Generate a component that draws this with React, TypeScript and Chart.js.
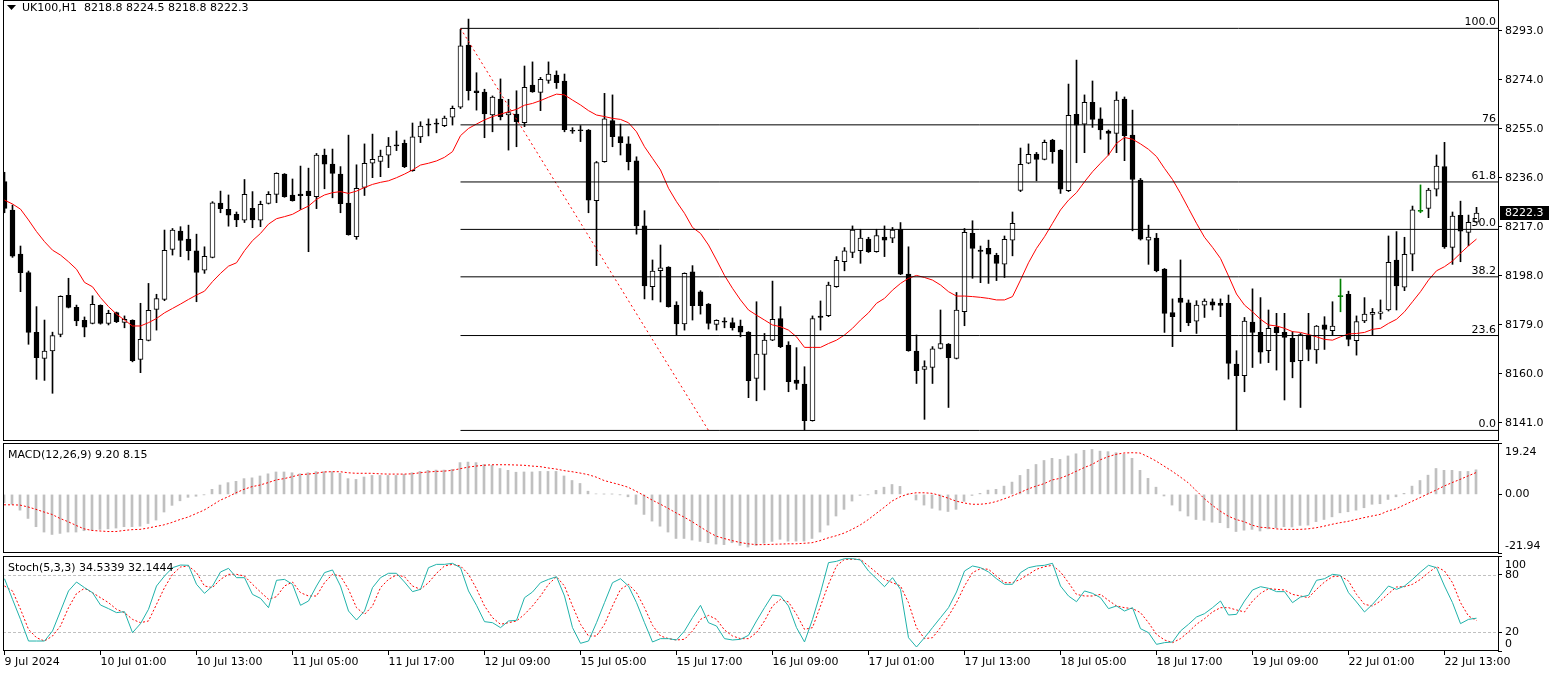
import React, { useEffect, useRef } from "react";
import { Chart, registerables } from "chart.js";

Chart.register(...registerables);

// ---------------- DATA ----------------
const symbolTitle = "UK100,H1";

const openP = [
8234.5,8223.4,8206.4,8199.2,8176.0,8165.9,8168.8,8175.2,8190.4,8185.7,
8180.7,8179.5,8186.5,8179.5,8183.7,8179.9,8180.7,8165.5,8172.9,8184.9,
8188.8,8208.2,8215.3,8212.2,8207.6,8200.1,8205.1,8226.2,8223.7,8221.8,
8219.5,8224.1,8219.5,8226.0,8229.5,8237.4,8229.3,8229.6,8230.8,8228.6,
8244.8,8241.3,8237.4,8226.2,8213.1,8232.2,8241.6,8242.3,8244.7,8248.7,
8249.3,8238.7,8251.8,8256.8,8257.1,8256.2,8259.5,8263.3,8287.4,8269.7,
8269.2,8260.3,8266.5,8260.3,8260.7,8257.3,8271.9,8269.1,8273.7,8275.8,
8273.5,8254.4,8254.5,8254.5,8227.1,8242.2,8258.1,8251.9,8249.1,8242.5,
8217.3,8193.7,8199.9,8201.3,8186.6,8179.3,8199.5,8191.7,8187.0,8179.1,
8180.3,8179.8,8178.5,8176.1,8158.2,8167.5,8173.0,8181.4,8171.1,8157.5,
8156.0,8141.8,8182.3,8182.5,8193.7,8203.4,8207.0,8207.7,8212.2,8207.3,
8213.0,8212.5,8216.0,8198.6,8168.8,8161.7,8162.4,8169.8,8171.5,8165.9,
8184.0,8214.4,8207.9,8208.6,8205.9,8202.5,8211.8,8231.1,8241.6,8245.2,
8243.1,8250.6,8246.7,8231.0,8260.6,8256.8,8265.2,8258.8,8254.1,8253.2,
8266.5,8252.5,8235.1,8211.8,8212.6,8200.6,8183.7,8189.3,8187.5,8180.4,
8186.6,8187.9,8187.3,8187.3,8163.7,8159.2,8180.0,8176.0,8168.9,8178.0,
8176.0,8173.7,8165.0,8175.0,8169.2,8178.9,8176.7,8190.1,8190.8,8172.8,
8180.5,8183.0,8183.4,8184.7,8204.1,8193.5,8206.3,8223.1,8224.1,8231.5,
8240.3,8209.0,8221.4,8214.8,8218.8];

const highP = [
8238.1,8225.4,8209.5,8199.8,8186.0,8180.8,8176.1,8190.2,8197.0,8186.6,
8182.0,8190.2,8186.7,8184.6,8183.9,8182.4,8180.9,8187.3,8195.0,8190.8,
8215.7,8216.3,8217.0,8217.6,8214.1,8209.2,8226.7,8230.8,8229.3,8222.7,
8235.3,8230.6,8226.9,8230.6,8237.9,8237.6,8235.5,8240.5,8239.7,8245.4,
8247.1,8247.1,8240.3,8252.5,8241.0,8249.1,8252.9,8246.7,8251.6,8254.1,
8250.6,8257.2,8257.7,8258.8,8258.8,8259.9,8263.8,8293.5,8297.5,8276.7,
8270.3,8267.7,8274.3,8266.4,8269.7,8279.3,8280.9,8274.9,8280.9,8277.4,
8276.2,8255.4,8256.2,8254.7,8242.3,8268.7,8268.1,8256.8,8251.9,8244.1,
8223.2,8204.1,8209.9,8201.5,8187.9,8199.1,8201.9,8192.2,8187.2,8180.9,
8181.7,8181.6,8180.8,8176.3,8187.9,8175.6,8195.9,8186.0,8172.4,8170.1,
8162.7,8182.4,8188.2,8195.5,8205.4,8208.9,8217.3,8216.0,8212.9,8216.0,
8217.3,8216.7,8218.6,8209.2,8175.0,8165.0,8170.5,8184.7,8171.7,8191.5,
8216.3,8219.3,8209.5,8211.8,8206.7,8213.4,8222.7,8247.5,8249.1,8245.8,
8250.6,8250.9,8246.9,8272.3,8281.6,8268.1,8273.5,8263.1,8254.5,8269.3,
8267.3,8262.2,8235.7,8217.6,8214.4,8200.8,8189.0,8204.1,8188.6,8188.3,
8189.0,8189.0,8189.0,8190.5,8168.9,8181.8,8192.9,8189.5,8184.7,8183.4,
8183.4,8176.3,8175.6,8183.4,8178.7,8182.1,8187.9,8196.7,8192.0,8182.4,
8189.5,8185.3,8188.6,8213.4,8215.1,8212.9,8225.0,8233.2,8231.9,8244.8,
8249.7,8222.7,8226.9,8221.5,8224.5];

const lowP = [
8222.4,8205.1,8191.8,8171.4,8157.8,8157.4,8152.4,8174.3,8185.5,8178.6,
8174.3,8179.3,8179.2,8178.9,8179.8,8177.8,8164.6,8160.4,8172.7,8176.9,
8188.3,8206.0,8205.4,8204.1,8187.9,8198.9,8204.9,8222.4,8217.2,8217.0,
8218.6,8216.6,8217.0,8225.8,8226.3,8228.4,8226.9,8223.7,8207.3,8224.0,
8231.7,8228.2,8222.4,8213.7,8212.1,8229.1,8236.0,8236.4,8239.9,8246.5,
8239.9,8238.5,8249.6,8252.2,8253.4,8255.8,8256.4,8262.8,8266.1,8262.2,
8251.5,8253.8,8258.4,8246.7,8248.0,8255.8,8269.1,8262.0,8272.6,8270.6,
8253.8,8253.2,8250.0,8222.4,8201.9,8242.0,8248.0,8244.8,8239.0,8214.1,
8189.0,8188.6,8187.8,8185.8,8175.0,8176.9,8180.8,8183.1,8177.3,8176.9,
8177.8,8176.9,8174.3,8150.7,8149.5,8153.7,8172.8,8170.1,8153.0,8153.9,
8138.1,8141.6,8176.9,8182.1,8193.5,8199.9,8205.0,8202.8,8207.0,8207.1,
8205.4,8210.8,8198.4,8168.7,8156.2,8142.3,8156.2,8169.6,8146.9,8165.7,
8178.6,8197.0,8195.3,8195.0,8196.1,8197.3,8205.7,8230.6,8241.4,8234.8,
8242.9,8241.6,8229.9,8230.6,8241.8,8245.7,8255.5,8250.9,8244.8,8245.7,
8242.6,8215.4,8211.8,8202.4,8199.5,8176.0,8170.5,8176.3,8178.6,8175.6,
8181.8,8184.7,8182.1,8157.9,8138.1,8153.0,8162.4,8164.0,8164.3,8161.4,
8149.8,8158.4,8146.9,8165.0,8164.0,8169.4,8175.0,8184.0,8170.8,8167.2,
8179.8,8175.0,8181.1,8184.3,8184.7,8192.2,8199.9,8222.4,8220.5,8228.9,
8208.6,8202.4,8203.4,8209.6,8218.8];

const closeP = [
8224.1,8205.6,8199.2,8176.0,8166.2,8168.8,8174.8,8190.0,8185.7,8180.5,
8178.0,8186.9,8179.5,8183.4,8180.2,8181.1,8165.0,8173.3,8184.6,8189.1,
8207.8,8215.7,8211.7,8207.7,8199.3,8205.5,8226.3,8224.0,8221.5,8219.6,
8229.5,8219.6,8225.7,8229.5,8237.7,8228.6,8227.1,8229.0,8229.0,8244.8,
8241.2,8237.7,8225.9,8213.9,8231.9,8241.6,8243.1,8244.4,8248.3,8248.4,
8240.3,8251.8,8256.0,8256.4,8256.8,8259.1,8262.9,8287.1,8269.7,8269.0,
8260.7,8267.3,8259.7,8261.2,8257.7,8271.0,8269.3,8274.1,8276.2,8272.8,
8254.6,8254.0,8254.3,8227.3,8241.9,8258.8,8251.9,8249.6,8242.2,8217.3,
8194.0,8199.8,8201.0,8186.0,8179.3,8198.9,8186.4,8186.4,8179.5,8180.7,
8180.1,8177.8,8176.1,8157.3,8167.6,8173.0,8181.1,8170.5,8156.9,8156.2,
8141.8,8181.4,8181.8,8194.4,8204.0,8207.6,8215.7,8212.6,8207.3,8213.6,
8211.8,8215.7,8198.6,8168.9,8161.2,8162.8,8169.6,8171.7,8166.2,8184.7,
8214.8,8208.6,8207.4,8206.3,8202.8,8212.1,8218.3,8241.2,8245.1,8243.1,
8249.7,8246.1,8231.5,8260.2,8256.4,8265.2,8258.6,8254.5,8253.2,8266.1,
8252.3,8235.3,8212.2,8213.0,8199.9,8183.4,8182.1,8187.6,8179.8,8186.6,
8188.2,8186.6,8186.5,8164.0,8159.2,8180.4,8176.0,8168.3,8177.6,8175.9,
8174.1,8164.6,8175.2,8169.4,8178.5,8177.2,8178.5,8190.1,8173.3,8180.2,
8183.1,8183.8,8184.0,8203.2,8194.0,8206.3,8223.5,8223.1,8231.2,8240.5,
8209.2,8221.1,8215.3,8218.7,8222.3];

const maLine = [
8227.3,8225.8,8223.8,8219.6,8215.1,8211.2,8207.9,8206.0,8203.4,8200.5,
8195.4,8193.7,8189.5,8186.0,8183.1,8180.8,8178.5,8178.5,8179.8,8181.4,
8183.6,8185.3,8187.0,8188.8,8190.5,8192.0,8195.7,8198.9,8201.7,8203.0,
8207.7,8211.6,8214.4,8218.0,8220.1,8220.9,8221.8,8223.5,8225.0,8227.6,
8229.3,8230.2,8230.6,8229.9,8230.8,8232.2,8233.4,8234.2,8234.8,8236.0,
8237.4,8239.0,8240.9,8241.6,8242.5,8243.9,8246.1,8252.3,8255.1,8256.8,
8258.4,8259.7,8260.6,8261.6,8262.5,8264.1,8264.8,8265.9,8267.2,8268.4,
8268.1,8266.1,8264.2,8262.0,8260.3,8259.7,8259.0,8258.6,8257.3,8253.8,
8248.0,8243.5,8239.0,8231.9,8226.7,8222.2,8216.7,8214.4,8209.9,8204.1,
8198.1,8193.1,8188.6,8184.7,8182.7,8180.8,8178.9,8178.2,8176.9,8174.3,
8170.2,8170.2,8170.2,8171.7,8173.0,8175.0,8177.6,8180.8,8183.6,8187.3,
8189.2,8192.4,8195.0,8197.0,8198.1,8197.3,8196.3,8194.4,8191.8,8190.1,
8190.1,8189.9,8189.6,8189.2,8188.6,8188.6,8189.9,8196.3,8203.0,8208.6,
8213.1,8218.3,8223.5,8227.3,8230.2,8234.4,8238.3,8241.6,8244.8,8249.3,
8251.6,8250.9,8249.1,8247.0,8244.2,8239.6,8235.3,8229.9,8224.1,8218.3,
8212.9,8209.0,8204.7,8197.9,8190.9,8186.6,8184.0,8181.1,8178.9,8178.5,
8177.6,8176.3,8176.0,8175.2,8174.3,8173.3,8173.0,8174.3,8175.4,8175.6,
8176.0,8177.2,8177.6,8179.5,8181.1,8184.0,8187.9,8191.8,8196.3,8199.9,
8201.5,8203.7,8206.7,8209.6,8212.2];

const macdMain = [
-3.1,-3.7,-5.9,-9.0,-12.1,-14.1,-15.0,-14.6,-14.1,-14.1,
-13.6,-13.4,-13.1,-12.9,-12.6,-12.1,-12.1,-11.9,-10.9,-9.6,
-6.6,-4.1,-2.4,-1.1,-0.7,-0.1,1.9,3.5,4.4,4.9,
5.9,6.2,6.9,7.7,8.4,8.4,8.1,7.7,8.1,8.5,
8.5,8.5,7.9,5.9,5.6,6.5,7.1,7.1,7.1,7.1,
7.5,8.1,8.6,9.0,9.1,9.1,9.4,11.9,12.1,11.9,
11.2,10.9,9.7,9.0,8.3,8.4,8.4,8.6,8.6,8.6,
6.9,5.2,4.1,1.2,0.2,0.1,0.1,-0.1,-0.9,-3.7,
-7.5,-10.0,-11.9,-14.1,-16.5,-16.5,-17.1,-17.6,-18.1,-18.6,
-18.8,-18.1,-19.1,-19.7,-19.1,-18.3,-17.6,-16.8,-17.5,-17.5,
-17.5,-16.5,-14.1,-11.5,-8.1,-5.6,-2.5,-0.4,-0.1,1.5,
2.7,3.7,3.0,0.1,-2.1,-4.0,-5.2,-5.9,-6.4,-5.6,
-2.6,-0.4,0.4,1.6,1.9,3.1,4.6,7.1,9.4,11.2,
12.7,13.5,13.1,14.4,15.2,16.5,16.8,16.2,16.0,15.6,
15.0,13.5,9.0,6.0,2.7,-0.6,-4.0,-6.2,-8.1,-9.4,
-9.7,-10.4,-10.6,-12.5,-13.9,-13.4,-13.1,-13.7,-12.9,-12.5,
-12.1,-12.2,-11.6,-11.5,-10.2,-9.4,-8.4,-6.9,-6.5,-5.9,
-5.0,-3.7,-3.5,-1.9,-0.9,0.4,3.1,5.2,7.2,9.7,
9.0,9.0,8.6,8.6,9.20];

const macdSignal = [
-3.9,-3.9,-4.0,-4.7,-5.6,-6.6,-7.5,-9.0,-10.2,-11.6,
-12.9,-13.5,-13.7,-13.9,-13.9,-13.5,-13.2,-13.1,-12.6,-12.0,
-11.4,-10.5,-9.4,-8.5,-7.2,-5.9,-4.1,-2.2,-0.9,0.6,
1.9,2.9,3.5,4.4,5.4,5.9,6.6,7.4,7.6,7.9,
8.4,8.5,8.5,8.1,7.9,7.9,7.9,7.7,7.6,7.6,
7.6,7.7,8.1,8.4,8.6,8.7,9.0,9.6,10.2,10.6,
10.9,11.1,11.1,11.1,11.0,10.9,10.6,10.4,9.9,9.5,
8.9,8.5,8.0,7.4,6.5,5.2,4.4,3.6,2.7,1.2,
-0.4,-2.1,-3.6,-5.2,-6.9,-8.5,-10.2,-12.1,-14.0,-15.6,
-16.5,-17.3,-18.0,-18.5,-18.8,-18.8,-18.7,-18.6,-18.5,-18.5,
-18.3,-18.1,-17.3,-16.3,-15.5,-14.5,-13.1,-11.5,-9.5,-7.2,
-4.9,-2.5,-0.9,0.1,0.6,0.6,0.4,-0.4,-1.4,-2.5,
-3.2,-3.7,-3.7,-3.4,-2.7,-1.7,-0.6,0.7,2.0,3.1,
4.0,5.4,6.0,7.2,8.6,10.0,11.2,12.9,14.1,15.0,
15.5,15.6,15.5,14.1,12.5,10.6,8.7,6.6,4.4,1.5,
-1.5,-4.0,-6.2,-8.1,-9.4,-10.2,-11.5,-12.3,-12.5,-12.9,
-13.1,-13.1,-13.1,-12.9,-12.5,-11.9,-11.2,-10.6,-10.1,-9.4,
-8.7,-8.1,-7.5,-6.2,-5.4,-4.0,-2.6,-1.2,0.2,1.6,
3.1,4.4,5.6,6.9,8.15];

const stochK = [
76.1,54.4,33.3,10.5,10.5,10.5,21.1,42.1,63.2,72.6,
66.7,61.4,48.4,44.6,40.4,41.4,19.3,28.8,43.9,68.4,
78.9,87.7,90.5,90.2,70.2,60.7,68.4,83.2,87.0,77.2,
77.2,59.6,55.4,45.6,74.4,75.4,70.2,48.1,52.6,68.4,
82.5,85.3,68.4,42.1,32.6,42.1,66.7,77.2,81.8,81.8,
72.6,62.5,64.9,87.7,91.2,91.2,92.3,87.7,63.2,48.1,
30.9,29.8,24.6,31.6,32.3,56.1,62.1,71.9,75.4,78.2,
57.9,24.6,8.1,10.5,29.8,50.9,71.9,76.1,68.4,50.9,
29.8,9.5,13.0,13.0,11.6,21.1,35.1,48.1,29.8,26.3,
13.0,11.6,12.3,16.5,31.6,45.6,58.9,57.9,47.4,24.6,
9.5,33.3,61.4,93.0,94.4,97.2,97.2,95.8,84.2,76.1,
67.7,77.2,64.9,14.0,4.2,14.0,24.6,35.1,45.6,62.1,
84.2,89.5,87.7,83.2,76.1,70.2,70.2,82.5,87.7,89.5,
90.2,92.3,68.4,57.9,51.9,63.2,60.7,56.1,44.6,47.4,
42.1,45.6,23.5,19.3,7.0,8.8,9.5,21.1,28.1,35.8,
39.3,45.6,52.6,37.9,38.6,52.6,64.2,67.7,66.0,62.5,
62.5,50.9,56.8,58.6,74.4,76.1,80.7,79.6,61.4,51.6,
41.1,49.1,58.6,68.4,64.9,68.4,75.4,83.2,90.2,87.7,
68.4,50.9,28.8,33.3,34.5339];

const stochD = [
68.4,63.2,43.9,22.8,14.0,10.5,15.8,26.3,45.6,60.4,
66.0,61.4,56.1,50.9,43.9,40.4,33.3,29.8,31.6,49.1,
66.7,80.7,88.4,89.5,82.5,68.4,66.7,75.4,80.7,80.7,
78.9,70.2,62.1,54.4,57.2,68.4,72.6,61.4,57.9,57.9,
71.9,80.7,78.9,64.9,45.6,38.6,47.4,66.7,75.4,80.0,
78.2,68.4,64.9,71.9,81.8,89.5,91.2,89.5,80.7,65.6,
47.4,35.1,28.1,29.8,31.6,38.6,47.4,57.9,70.2,78.2,
68.4,47.4,28.1,15.8,15.8,28.1,47.4,64.9,70.2,61.4,
45.6,27.0,15.8,13.0,11.6,12.3,21.1,33.3,37.5,33.3,
22.1,15.8,13.0,13.0,19.3,31.6,47.4,54.4,51.6,38.6,
22.8,24.6,47.4,70.2,89.5,96.5,96.5,96.5,89.5,82.5,
75.4,71.9,68.4,50.9,24.6,13.0,14.0,24.6,36.8,50.9,
68.4,82.5,86.7,86.0,78.9,71.9,71.9,75.5,80.7,86.0,
88.8,90.2,83.2,71.9,59.6,57.9,57.9,59.6,53.3,47.4,
45.6,44.6,40.4,29.8,17.5,11.6,8.8,13.0,20.0,28.1,
34.0,41.1,45.6,45.6,43.2,41.1,52.6,60.7,65.6,64.9,
64.2,59.6,57.9,56.1,64.9,72.6,78.2,78.9,73.7,59.6,
49.1,47.4,52.6,60.4,67.4,67.7,70.2,75.4,82.5,88.8,
84.2,71.9,50.9,36.8,32.1444];

const timeLabels = [
  "9 Jul 2024", "10 Jul 01:00", "10 Jul 13:00", "11 Jul 05:00", "11 Jul 17:00",
  "12 Jul 09:00", "15 Jul 05:00", "15 Jul 17:00", "16 Jul 09:00", "17 Jul 01:00",
  "17 Jul 13:00", "18 Jul 05:00", "18 Jul 17:00", "19 Jul 09:00", "22 Jul 01:00",
  "22 Jul 13:00",
];
const timeLabelBars = [0, 12, 24, 36, 48, 60, 72, 84, 96, 108, 120, 132, 144, 156, 168, 180];

const priceTicks = [8141, 8160, 8179, 8198, 8217, 8236, 8255, 8274, 8293];
const macdTicks = [19.24, 0, -21.94];
const stochTicks = [100, 80, 20, 0];
const stochLevels = [80, 20];

const fibHigh = 8293.9;
const fibLow = 8138.0;
const fibStartBar = 57;
const fibTrendEndBar = 88;
const fibLevels = [0, 23.6, 38.2, 50, 61.8, 76, 100];
const fibLabels = ["0.0", "23.6", "38.2", "50.0", "61.8", "76", "100.0"];

// ---------------- LAYOUT / STYLE ----------------
const W = 1556;
const AXIS_W = 58;
const PAD_L = 3;
const X_MIN = -0.1875;
const X_MAX = 186.6875;
const HIST_SHIFT = 0.0625;
const PRICE_MIN = 8133.9;
const PRICE_MAX = 8304.9;
const FAMILY = '"DejaVu Sans", sans-serif';
const FONT = `11px ${FAMILY}`;
const GREEN = "#008000";
const RED = "#ff0000";

const barIdx = openP.map((_, i) => i);
const fibPrice = (lv: number) => fibLow + (lv / 100) * (fibHigh - fibLow);

function xAxis(extra: any = {}) {
  return {
    type: "linear",
    min: X_MIN,
    max: X_MAX,
    offset: false,
    display: false,
    grid: { display: false, offset: false },
    ...extra,
  };
}

function yAxis(min: number, max: number, tickVals: number[], showLabels: boolean, fmt?: (v: any) => string) {
  return {
    type: "linear",
    position: "right",
    min,
    max,
    beginAtZero: false,
    afterFit: (s: any) => {
      s.width = AXIS_W;
      s.paddingTop = 0;
      s.paddingBottom = 0;
    },
    afterBuildTicks: (s: any) => {
      s.ticks = tickVals.map((v) => ({ value: v }));
    },
    grid: { drawOnChartArea: false, drawTicks: true, tickLength: 4, color: "#000", lineWidth: 1, offset: false },
    border: { display: false },
    ticks: {
      display: showLabels,
      padding: 3,
      color: "#000",
      font: { family: FAMILY, size: 11 },
      callback: fmt || ((v: any) => String(v)),
    },
  };
}

const borderPlugin = {
  id: "panelBorder",
  afterDraw(chart: any) {
    const { ctx, chartArea: a } = chart;
    ctx.save();
    ctx.strokeStyle = "#000";
    ctx.lineWidth = 1;
    ctx.setLineDash([]);
    ctx.strokeRect(
      Math.round(a.left) + 0.5,
      Math.round(a.top) + 0.5,
      Math.round(a.right - a.left),
      Math.round(a.bottom - a.top) - 1
    );
    ctx.restore();
  },
};

const mainDecor = {
  id: "mainDecor",
  afterDatasetsDraw(chart: any) {
    const { ctx, chartArea: a, scales } = chart;
    const y = scales.y;
    ctx.save();
    ctx.font = FONT;
    ctx.fillStyle = "#000";
    ctx.textAlign = "right";
    ctx.textBaseline = "alphabetic";
    fibLevels.forEach((lv, k) => {
      const py = y.getPixelForValue(fibPrice(lv));
      ctx.fillText(fibLabels[k], a.right - 2, py - 3);
    });
    ctx.restore();
  },
  afterDraw(chart: any) {
    const { ctx, chartArea: a, scales } = chart;
    const y = scales.y;
    const n = closeP.length - 1;
    ctx.save();
    ctx.fillStyle = "#000";
    ctx.beginPath();
    ctx.moveTo(7, 5);
    ctx.lineTo(16, 5);
    ctx.lineTo(11.5, 10);
    ctx.closePath();
    ctx.fill();
    ctx.font = FONT;
    ctx.textAlign = "left";
    ctx.textBaseline = "middle";
    const header = `${symbolTitle}  ${openP[n].toFixed(1)} ${highP[n].toFixed(1)} ${lowP[n].toFixed(1)} ${closeP[n].toFixed(1)}`;
    ctx.fillText(header, 22, 8);
    const py = Math.round(y.getPixelForValue(closeP[n]));
    ctx.fillStyle = "#000";
    ctx.fillRect(a.right + 2, py - 7, 49, 14);
    ctx.fillStyle = "#fff";
    ctx.fillText(closeP[n].toFixed(1), a.right + 7, py);
    ctx.restore();
  },
};

function sidePlugin(id: string, title: string, items: { value: number; text: string }[], dashLevels: number[]) {
  return {
    id,
    beforeDatasetsDraw(chart: any) {
      if (!dashLevels.length) return;
      const { ctx, chartArea: a, scales } = chart;
      const y = scales.y;
      ctx.save();
      ctx.strokeStyle = "#c0c0c0";
      ctx.lineWidth = 1;
      ctx.setLineDash([3, 2]);
      dashLevels.forEach((v) => {
        const py = Math.round(y.getPixelForValue(v)) + 0.5;
        ctx.beginPath();
        ctx.moveTo(a.left, py);
        ctx.lineTo(a.right, py);
        ctx.stroke();
      });
      ctx.restore();
    },
    afterDraw(chart: any) {
      const { ctx, chartArea: a, scales } = chart;
      const y = scales.y;
      ctx.save();
      ctx.font = FONT;
      ctx.fillStyle = "#000";
      ctx.textAlign = "left";
      ctx.textBaseline = "middle";
      ctx.fillText(title, 8, a.top + 12);
      items.forEach((it) => {
        let py = y.getPixelForValue(it.value);
        if (it.value === y.max) py += 9;
        else if (it.value === y.min) py -= 7;
        ctx.fillText(it.text, a.right + 7, py);
      });
      ctx.restore();
    },
  };
}

function mainConfig(): any {
  const isEq = (i: number) => openP[i] === closeP[i];
  const wickData = barIdx.map((i) => ({ x: i, y: [lowP[i], highP[i]] }));
  const bodyData = barIdx.map((i) => {
    let a = openP[i];
    let b = closeP[i];
    if (Math.abs(a - b) < 0.4) {
      const m = (a + b) / 2;
      a = m - 0.2;
      b = m + 0.2;
    }
    return { x: i, y: [a, b] };
  });
  const bodyFill = barIdx.map((i) => (isEq(i) ? GREEN : closeP[i] > openP[i] ? "#ffffff" : "#000000"));
  const bodyBorder = barIdx.map((i) => (isEq(i) ? GREEN : "#000000"));
  const wickColor = barIdx.map((i) => (isEq(i) ? GREEN : "#000000"));

  const fibSets = fibLevels.map((lv) => ({
    type: "line",
    data: [
      { x: fibStartBar, y: fibPrice(lv) },
      { x: X_MAX, y: fibPrice(lv) },
    ],
    borderColor: "#000",
    borderWidth: 1,
    pointRadius: 0,
    order: 0,
  }));

  return {
    type: "line",
    data: {
      datasets: [
        {
          type: "bar",
          data: wickData,
          backgroundColor: wickColor,
          borderWidth: 0,
          barThickness: 1,
          maxBarThickness: 1,
          grouped: false,
          order: 3,
        },
        {
          type: "bar",
          data: bodyData,
          backgroundColor: bodyFill,
          borderColor: bodyBorder,
          borderWidth: 1,
          borderSkipped: false,
          barThickness: 5,
          maxBarThickness: 5,
          grouped: false,
          order: 2,
        },
        {
          type: "line",
          data: barIdx.map((i) => ({ x: i, y: maLine[i] })),
          borderColor: RED,
          borderWidth: 1,
          pointRadius: 0,
          tension: 0,
          order: 1,
        },
        ...fibSets,
        {
          type: "line",
          data: [
            { x: fibStartBar, y: fibHigh },
            { x: fibTrendEndBar, y: fibLow },
          ],
          borderColor: RED,
          borderWidth: 1,
          borderDash: [2, 3],
          pointRadius: 0,
          order: 0,
        },
      ],
    },
    options: {
      responsive: false,
      maintainAspectRatio: false,
      animation: false,
      devicePixelRatio: 1,
      events: [],
      layout: { padding: { left: PAD_L, right: 0, top: 0, bottom: 0 } },
      plugins: { legend: { display: false }, tooltip: { enabled: false } },
      scales: {
        x: xAxis(),
        y: yAxis(PRICE_MIN, PRICE_MAX, priceTicks, true, (v: any) => Number(v).toFixed(1)),
      },
    },
    plugins: [borderPlugin, mainDecor],
  };
}

function macdConfig(): any {
  const n = macdMain.length - 1;
  return {
    type: "line",
    data: {
      datasets: [
        {
          type: "bar",
          data: barIdx.map((i) => ({ x: i, y: macdMain[i] })),
          backgroundColor: "#c0c0c0",
          borderWidth: 0,
          barThickness: 2,
          maxBarThickness: 2,
          grouped: false,
          order: 2,
        },
        {
          type: "line",
          data: barIdx.map((i) => ({ x: i, y: macdSignal[i] })),
          borderColor: RED,
          borderWidth: 1,
          borderDash: [2, 2],
          pointRadius: 0,
          tension: 0,
          order: 1,
        },
      ],
    },
    options: {
      responsive: false,
      maintainAspectRatio: false,
      animation: false,
      devicePixelRatio: 1,
      events: [],
      layout: { padding: { left: PAD_L, right: 0, top: 2, bottom: 1 } },
      plugins: { legend: { display: false }, tooltip: { enabled: false } },
      scales: {
        x: xAxis({ min: X_MIN + HIST_SHIFT, max: X_MAX + HIST_SHIFT }),
        y: yAxis(macdTicks[2], macdTicks[0], macdTicks, false),
      },
    },
    plugins: [
      borderPlugin,
      sidePlugin(
        "macdSide",
        `MACD(12,26,9) ${macdMain[n].toFixed(2)} ${macdSignal[n].toFixed(2)}`,
        macdTicks.map((v) => ({ value: v, text: v.toFixed(2) })),
        []
      ),
    ],
  };
}

function stochConfig(): any {
  const n = stochK.length - 1;
  return {
    type: "line",
    data: {
      datasets: [
        {
          data: barIdx.map((i) => ({ x: i, y: stochD[i] })),
          borderColor: RED,
          borderWidth: 1,
          borderDash: [2, 2],
          pointRadius: 0,
          tension: 0,
          order: 2,
        },
        {
          data: barIdx.map((i) => ({ x: i, y: stochK[i] })),
          borderColor: "#20b2aa",
          borderWidth: 1,
          pointRadius: 0,
          tension: 0,
          order: 1,
        },
      ],
    },
    options: {
      responsive: false,
      maintainAspectRatio: false,
      animation: false,
      devicePixelRatio: 1,
      events: [],
      layout: { padding: { left: PAD_L, right: 0, top: 3, bottom: 0 } },
      plugins: { legend: { display: false }, tooltip: { enabled: false } },
      scales: {
        x: xAxis({
          display: true,
          position: "bottom",
          afterFit: (s: any) => {
            s.height = 22;
            s.paddingLeft = 0;
            s.paddingRight = 0;
          },
          afterBuildTicks: (s: any) => {
            s.ticks = timeLabelBars.map((v) => ({ value: v }));
          },
          grid: { display: true, drawOnChartArea: false, drawTicks: true, tickLength: 4, color: "#000", offset: false },
          border: { display: false },
          ticks: {
            align: "start",
            padding: 1,
            maxRotation: 0,
            minRotation: 0,
            autoSkip: false,
            color: "#000",
            font: { family: FAMILY, size: 11 },
            callback: (_v: any, idx: number) => timeLabels[idx],
          },
        }),
        y: yAxis(0, 100, stochTicks, false),
      },
    },
    plugins: [
      borderPlugin,
      sidePlugin(
        "stochSide",
        `Stoch(5,3,3) ${stochK[n].toFixed(4)} ${stochD[n].toFixed(4)}`,
        stochTicks.map((v) => ({ value: v, text: String(v) })),
        stochLevels
      ),
    ],
  };
}

export default function App() {
  const mainRef = useRef<HTMLCanvasElement>(null);
  const macdRef = useRef<HTMLCanvasElement>(null);
  const stochRef = useRef<HTMLCanvasElement>(null);

  useEffect(() => {
    const charts = [
      new Chart(mainRef.current as HTMLCanvasElement, mainConfig()),
      new Chart(macdRef.current as HTMLCanvasElement, macdConfig()),
      new Chart(stochRef.current as HTMLCanvasElement, stochConfig()),
    ];
    return () => charts.forEach((c) => c.destroy());
  }, []);

  return (
    <div
      style={{
        position: "fixed",
        left: 0,
        top: 0,
        width: W,
        height: 673,
        background: "#ffffff",
        overflow: "hidden",
      }}
    >
      <canvas ref={mainRef} width={W} height={441} style={{ position: "absolute", left: 0, top: 0 }} />
      <canvas ref={macdRef} width={W} height={113} style={{ position: "absolute", left: 0, top: 441 }} />
      <canvas ref={stochRef} width={W} height={120} style={{ position: "absolute", left: 0, top: 553 }} />
    </div>
  );
}
